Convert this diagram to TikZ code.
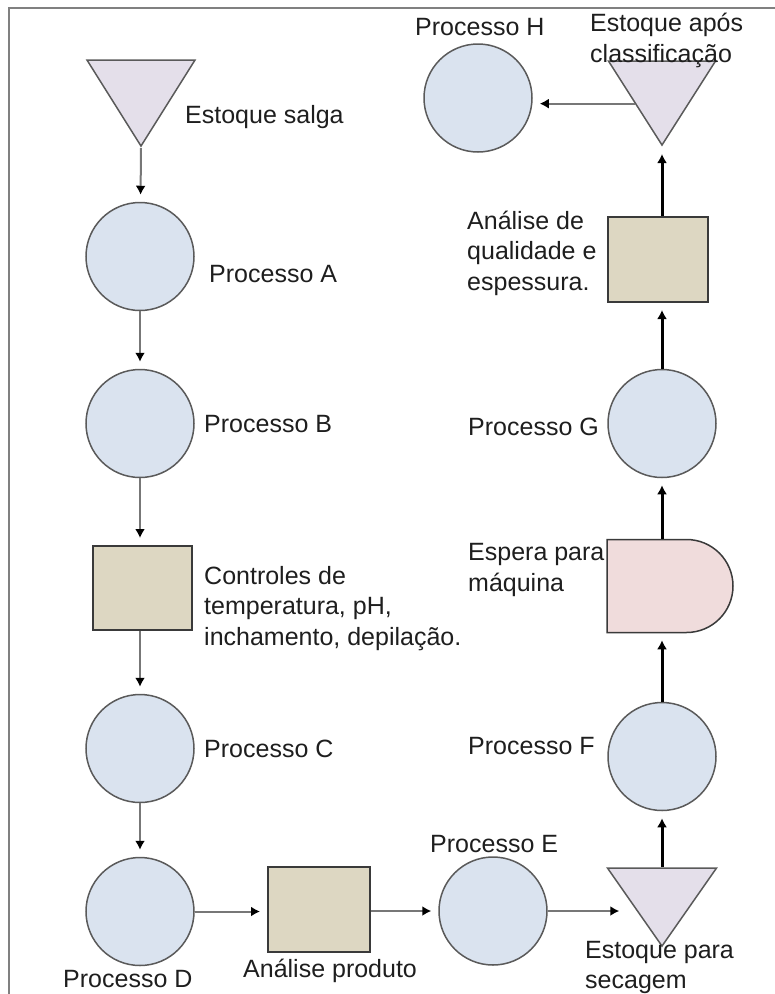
\documentclass[tikz,border=0pt]{standalone}
\usepackage{fontspec}
\setmainfont{Liberation Sans}
\usetikzlibrary{arrows.meta,shapes.geometric,shapes.misc}
\definecolor{azul}{HTML}{DAE3EF}
\definecolor{lilas}{HTML}{E4DFEA}
\definecolor{bege}{HTML}{DDD7C2}
\definecolor{rosa}{HTML}{F0DCDC}
\definecolor{cinza}{HTML}{5A5A5A}
\definecolor{escuro}{HTML}{3A3A3A}
\definecolor{linha}{HTML}{777777}
\definecolor{borda}{HTML}{808080}
\definecolor{texto}{HTML}{1E1E1E}
\tikzset{
  proc/.style={circle,draw=cinza,line width=1.5pt,fill=azul,minimum size=108pt,inner sep=0},
  estoque/.style={isosceles triangle,isosceles triangle stretches,shape border rotate=-90,draw=cinza,line width=1.5pt,fill=lilas,inner sep=0},
  caixa/.style={rectangle,draw=escuro,line width=2pt,fill=bege,inner sep=0},
  demora/.style={rounded rectangle,rounded rectangle west arc=none,draw=escuro,line width=1.5pt,fill=rosa,inner sep=0,minimum width=126pt,minimum height=93pt},
  rotulo/.style={anchor=base west,inner sep=0,align=left,text=texto,font=\fontsize{25}{30.5}\selectfont},
  fluxo/.style={draw=linha,line width=2pt,-{Latex[length=9pt,width=10pt,color=black]},shorten >=7pt},
  fluxoforte/.style={fluxo,draw=black,line width=3pt}
}
\begin{document}
\begin{tikzpicture}[x=1pt,y=-1pt]
\useasboundingbox (0,0) rectangle (775,994);
\draw[draw=borda,line width=2.5pt] (9,994) -- (9,8) -- (775,8);
\node[estoque,minimum width=108pt,minimum height=86pt,anchor=apex] (salga) at (141,148) {};
\node[proc] (pA) at (140,256.5) {};
\node[proc] (pB) at (140,423.5) {};
\node[caixa,minimum width=99pt,minimum height=84pt] (ctrl) at (142,588) {};
\node[proc] (pC) at (140,748.5) {};
\node[proc] (pD) at (140,911.5) {};
\node[caixa,minimum width=102pt,minimum height=85pt] (analiseProd) at (319,909.5) {};
\node[proc] (pE) at (493,911) {};
\node[estoque,minimum width=109pt,minimum height=78pt,anchor=apex] (secagem) at (662,948) {};
\node[proc] (pF) at (662,756.5) {};
\node[demora] (espera) at (670,586) {};
\node[proc] (pG) at (662,423.5) {};
\node[caixa,minimum width=100pt,minimum height=85pt] (analiseQual) at (658,259.5) {};
\node[estoque,minimum width=107pt,minimum height=84pt,anchor=apex] (classif) at (662,147) {};
\node[proc] (pH) at (478,98) {};
\node[rotulo] (tSalga) at (185,123) {Estoque salga};
\node[rotulo] (tA) at (209,282) {Processo A};
\node[rotulo] (tB) at (204,432) {Processo B};
\node[rotulo] (tCtrl) at (204,645) {Controles de\\temperatura, pH,\\inchamento, depilação.};
\node[rotulo] (tC) at (204,757) {Processo C};
\node[rotulo] (tD) at (63,987) {Processo D};
\node[rotulo] (tAnaliseProd) at (243,977) {Análise produto};
\node[rotulo] (tE) at (430,852) {Processo E};
\node[rotulo] (tSecagem) at (585,988) {Estoque para\\[-1pt]secagem};
\node[rotulo] (tF) at (468,754) {Processo F};
\node[rotulo] (tEspera) at (468,591) {Espera para\\máquina};
\node[rotulo] (tG) at (468,435) {Processo G};
\node[rotulo] (tQual) at (467,290) {Análise de\\qualidade e\\espessura.};
\node[rotulo] (tClassif) at (590,62) {Estoque após\\classificação};
\node[rotulo] (tH) at (415,35) {Processo H};
\draw[fluxo] (salga.apex) -- (pA);
\draw[fluxo] (pA) -- (pB);
\draw[fluxo] (pB) -- (pB |- ctrl.north);
\draw[fluxo] (ctrl.south -| pC) -- (pC);
\draw[fluxo] (pC) -- (pD);
\draw[fluxo] (pD.east) -- (pD.east -| analiseProd.west);
\draw[fluxo] (analiseProd.east |- pE) -- (pE);
\draw[fluxo] (pE.east) -- (pE.east -| secagem.west);
\draw[fluxoforte] (secagem.north) -- (pF);
\draw[fluxoforte] (pF.north) -- (pF.north |- espera.south);
\draw[fluxoforte] (espera.north -| pG) -- (pG);
\draw[fluxoforte] (pG) -- (pG |- analiseQual.south);
\draw[fluxoforte] (analiseQual.north -| classif.apex) -- (classif.apex);
\draw[fluxo] (classif.right side) -- (classif.right side -| pH.east);
\end{tikzpicture}
\end{document}
